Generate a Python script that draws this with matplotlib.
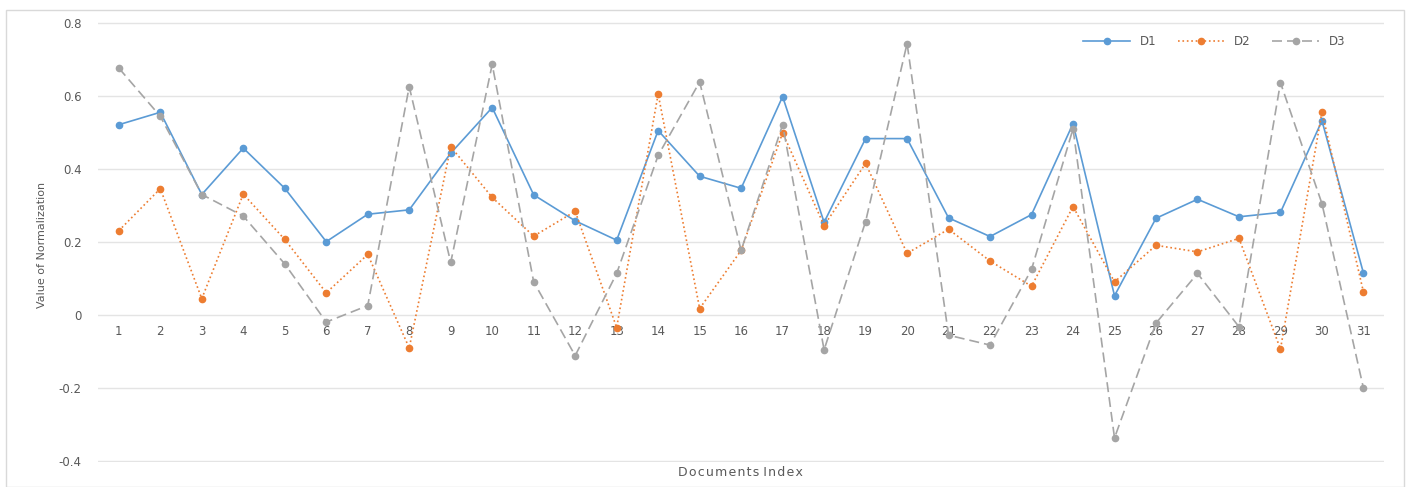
import numpy as np
import matplotlib
matplotlib.use("Agg")
import matplotlib.pyplot as plt
from matplotlib.patches import Rectangle

# documents 1..31
docs = list(range(1, 32))

d1 = [0.521, 0.555, 0.330, 0.457, 0.347, 0.201, 0.276, 0.288, 0.443, 0.568,
      0.329, 0.258, 0.205, 0.505, 0.380, 0.347, 0.598, 0.254, 0.483, 0.483,
      0.266, 0.215, 0.275, 0.524, 0.053, 0.265, 0.317, 0.269, 0.281, 0.532,
      0.115]
d2 = [0.231, 0.346, 0.045, 0.331, 0.207, 0.061, 0.166, -0.090, 0.461, 0.322,
      0.216, 0.284, -0.034, 0.605, 0.018, 0.177, 0.499, 0.245, 0.415, 0.169,
      0.235, 0.148, 0.079, 0.297, 0.091, 0.191, 0.173, 0.210, -0.093, 0.556,
      0.063]
d3 = [0.676, 0.544, 0.330, 0.271, 0.140, -0.019, 0.026, 0.625, 0.144, 0.686,
      0.091, -0.111, 0.114, 0.437, 0.638, 0.177, 0.521, -0.095, 0.256, 0.743,
      -0.055, -0.082, 0.125, 0.510, -0.336, -0.022, 0.114, -0.032, 0.636, 0.305,
      -0.200]

yticks = [-0.4, -0.2, 0, 0.2, 0.4, 0.6, 0.8]
ytick_labels = ["-0.4", "-0.2", "0", "0.2", "0.4", "0.6", "0.8"]

blue = "#5B9BD5"
orange = "#ED7D31"
gray = "#A5A5A5"
text_col = "#595959"

fig = plt.figure(figsize=(14.11, 4.87), dpi=100)
fig.patches.append(Rectangle((0.004, 0.0), 0.991, 0.979, transform=fig.transFigure,
                             fill=False, edgecolor="#D9D9D9", linewidth=1))

ax = fig.add_axes([0.0695, 0.0513, 0.9115, 0.9035])

ax.plot(docs, d1, color=blue, linestyle="-", linewidth=1.2,
        marker="o", markersize=4.5, label="D1")
ax.plot(docs, d2, color=orange, linestyle=":", linewidth=1.2,
        marker="o", markersize=4.5, label="D2")
ax.plot(docs, d3, color=gray, linestyle=(0, (6, 3)), linewidth=1.2,
        marker="o", markersize=4.5, label="D3")

ax.set_xlim(0.5, 31.5)
ax.set_ylim(-0.402, 0.802)
ax.set_yticks(yticks)
ax.set_yticklabels(ytick_labels)
ax.set_xticks(docs)
ax.set_xticklabels([str(d) for d in docs])

ax.grid(axis="y", color="#E4E4E4", linewidth=1)
ax.set_axisbelow(True)
for s in ["top", "right", "left"]:
    ax.spines[s].set_visible(False)
ax.spines["bottom"].set_position(("data", 0))
ax.spines["bottom"].set_visible(False)
ax.tick_params(axis="both", length=0, labelsize=8.5, colors=text_col)
ax.tick_params(axis="x", pad=7)
ax.tick_params(axis="y", pad=12)

fig.text(0.03, 0.497, "Value of Normalization", rotation=90, ha="center",
         va="center", fontsize=8, color=text_col, family="Liberation Sans Narrow")
fig.text(0.525, 0.03, "D o c u m e n t s   I n d e x".replace(" ", "\u200a").replace("\u200a\u200a\u200a", " "),
         ha="center", va="center", fontsize=9, color=text_col)

ax.legend(loc="upper right", bbox_to_anchor=(0.978, 0.995), ncol=3, frameon=False,
          fontsize=8.5, labelcolor=text_col, handlelength=4, columnspacing=1.8)

fig.savefig("out.png", dpi=100)
